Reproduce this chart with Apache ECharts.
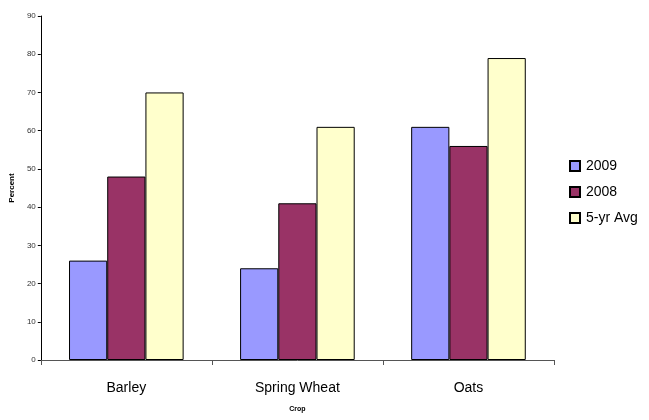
<!DOCTYPE html>
<html><head><meta charset="utf-8">
<script src="https://cdn.jsdelivr.net/npm/echarts@6/dist/echarts.min.js"></script>
<style>html,body{margin:0;padding:0;background:#fff}#c{width:649px;height:420px}</style>
</head><body><div id="c"></div>
<script>
const categories = ['Barley', 'Spring Wheat', 'Oats'];
const s2009 = [26, 24, 61];
const s2008 = [48, 41, 56];
const avg5 = [70, 61, 79];
const yTicks = [0, 10, 20, 30, 40, 50, 60, 70, 80, 90];

const chart = echarts.init(document.getElementById('c'));
const bar = (name, data, color) => ({
  name, type: 'bar', data, barGap: 0, barCategoryGap: '33%',
  itemStyle: { color, borderColor: '#000', borderWidth: 1 }
});
chart.setOption({
  animation: false,
  textStyle: { fontFamily: 'Liberation Sans, Arial, sans-serif' },
  grid: { left: 40, right: 95, top: 16, bottom: 60, containLabel: false },
  legend: {
    orient: 'vertical', left: 564, top: 154, itemGap: 12,
    itemWidth: 10, itemHeight: 10, icon: 'rect',
    textStyle: { fontSize: 14, color: '#000', padding: [0, 0, 0, 1] },
    data: ['2009', '2008', '5-yr Avg']
  },
  xAxis: {
    type: 'category', data: categories,
    name: 'Crop', nameLocation: 'middle', nameGap: 46,
    nameTextStyle: { fontSize: 7, fontWeight: 'bold', color: '#000' },
    axisLine: { lineStyle: { color: '#555', width: 1 } },
    axisTick: { show: true, alignWithLabel: false, length: 5, lineStyle: { color: '#555' } },
    axisLabel: { fontSize: 14, color: '#000', margin: 21 }
  },
  yAxis: {
    type: 'value', min: 0, max: 90, interval: 10,
    name: 'Percent', nameLocation: 'middle', nameGap: 22, nameRotate: 90,
    nameTextStyle: { fontSize: 8, fontWeight: 'bold', color: '#000' },
    axisLine: { show: true, lineStyle: { color: '#000', width: 1 } },
    axisTick: { show: true, length: 3, lineStyle: { color: '#000' } },
    axisLabel: { fontSize: 8, color: '#333', margin: 5,
      formatter: v => yTicks.includes(v) ? String(v) : '' },
    splitLine: { show: false }
  },
  series: [
    bar('2009', s2009, '#9999FF'),
    bar('2008', s2008, '#993366'),
    bar('5-yr Avg', avg5, '#FFFFCC')
  ]
});
</script></body></html>
